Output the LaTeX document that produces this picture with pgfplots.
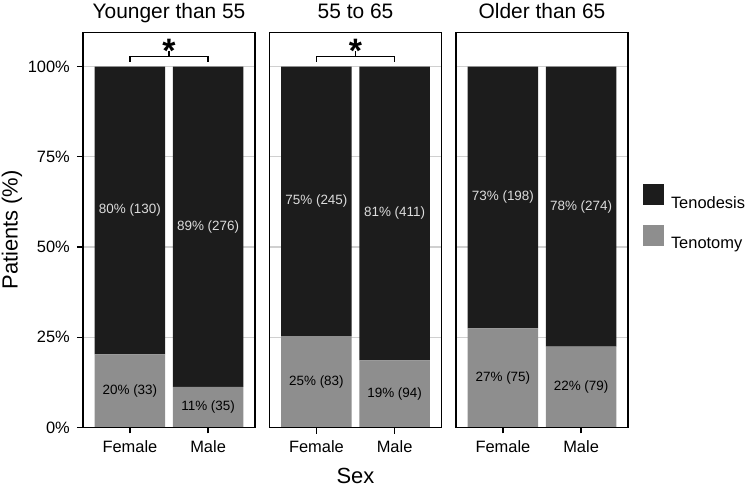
\documentclass[border=0pt]{standalone}
\usepackage{fontspec}
\setmainfont{Liberation Sans}
\usepackage{pgfplots}
\pgfplotsset{compat=1.18}
\definecolor{tdes}{HTML}{1C1C1C}
\definecolor{tomy}{HTML}{8E8E8E}
\definecolor{gridc}{HTML}{D0D0D0}
\definecolor{lightlab}{HTML}{DCDCDC}
\tikzset{bracket/.style={black, line width=1.8bp}}
\pgfplotsset{
  frame/.style={
    scale only axis, width=172bp, height=395.2bp, anchor=south west,
    xmin=0.4, xmax=2.6, ymin=0, ymax=109.5, clip=false,
    axis line style={black, line width=1.2bp},
  },
  panel/.style={
    frame,
    ybar stacked, bar width=0.9,
    xtick={1,2}, xticklabels={Female,Male},
    ytick={0,25,50,75,100},
    ymajorgrids, grid style={gridc, line width=1.1bp},
    tick align=outside, major tick length=6bp,
    tick style={black, line width=1.2bp},
    xtick pos=bottom, ytick pos=left,
    ticklabel style={font=\fontsize{16.5}{18}\selectfont, inner sep=0pt},
    xticklabel style={anchor=north, yshift=-6.5bp},
    yticklabel style={anchor=east, xshift=-7bp},
    title style={at={(0.5,1)}, anchor=base, yshift=8bp, font=\fontsize{21}{24}\selectfont},
    label style={font=\fontsize{22}{26}\selectfont},
  },
  labelaxis/.style={frame, xtick=\empty, ytick=\empty},
  labels/.style={only marks, mark=none,
    nodes near coords, point meta=explicit symbolic,
    nodes near coords style={anchor=center, inner sep=0pt, font=\fontsize{13.5}{16}\selectfont, text=#1}},
}
\newcommand{\sigstar}{\fontsize{34}{34}\selectfont\bfseries *}
\begin{document}
\begin{tikzpicture}
\useasboundingbox (0,0) rectangle (750bp,489bp);
% Panel 1
\begin{axis}[panel, at={(83bp,61.5bp)}, title={Younger than 55},
  ylabel={Patients (\%)}, ylabel style={at={(axis description cs:-0.413,0.5)}, anchor=center},
  yticklabels={0\%,25\%,50\%,75\%,100\%}]
\addplot[fill=tomy, draw=none] coordinates {(1,20.25) (2,11.25)};
\addplot[fill=tdes, draw=none] coordinates {(1,79.75) (2,88.75)};
\draw[bracket] (axis cs:1,101.4) |- (axis cs:2,102.8) -- (axis cs:2,101.4);
\draw[bracket] (axis cs:1.5,102.8) -- (axis cs:1.5,104.2);
\node[anchor=base, inner sep=0pt] at (axis cs:1.5,101.1) {\sigstar};
\end{axis}
\begin{axis}[labelaxis, at={(83bp,61.5bp)}]
\addplot[labels=black] coordinates {(1,10.12) [20\% (33)] (2,5.63) [11\% (35)]};
\addplot[labels=lightlab] coordinates {(1,60.12) [80\% (130)] (2,55.63) [89\% (276)]};
\end{axis}
% Panel 2
\begin{axis}[panel, at={(269.5bp,61.5bp)}, title={55 to 65},
  yticklabels={}, ytick style={draw=none},
  xlabel={Sex}, xlabel style={at={(axis description cs:0.5,-0.1227)}, anchor=center}]
\addplot[fill=tomy, draw=none] coordinates {(1,25.30) (2,18.61)};
\addplot[fill=tdes, draw=none] coordinates {(1,74.70) (2,81.39)};
\draw[bracket] (axis cs:1,101.4) |- (axis cs:2,102.8) -- (axis cs:2,101.4);
\draw[bracket] (axis cs:1.5,102.8) -- (axis cs:1.5,104.2);
\node[anchor=base, inner sep=0pt] at (axis cs:1.5,101.1) {\sigstar};
\end{axis}
\begin{axis}[labelaxis, at={(269.5bp,61.5bp)}]
\addplot[labels=black] coordinates {(1,12.65) [25\% (83)] (2,9.31) [19\% (94)]};
\addplot[labels=lightlab] coordinates {(1,62.65) [75\% (245)] (2,59.31) [81\% (411)]};
\end{axis}
% Panel 3
\begin{axis}[panel, at={(456bp,61.5bp)}, title={Older than 65},
  yticklabels={}, ytick style={draw=none},
  legend image code/.code={\fill[#1] (0bp,-2bp) rectangle (21bp,19bp);},
  reverse legend,
  legend style={at={(axis description cs:1,0.616)}, anchor=north west, xshift=15bp,
    draw=none, fill=none, inner sep=0pt, outer sep=0pt, row sep=15bp, column sep=7bp,
    nodes={inner sep=0pt}, font=\fontsize{16.5}{18}\selectfont},
  legend cell align=left]
\addplot[fill=tomy, draw=none] coordinates {(1,27.47) (2,22.38)};
\addplot[fill=tdes, draw=none] coordinates {(1,72.53) (2,77.62)};
\legend{Tenotomy,Tenodesis}
\end{axis}
\begin{axis}[labelaxis, at={(456bp,61.5bp)}]
\addplot[labels=black] coordinates {(1,13.74) [27\% (75)] (2,11.19) [22\% (79)]};
\addplot[labels=lightlab] coordinates {(1,63.74) [73\% (198)] (2,61.19) [78\% (274)]};
\end{axis}
\end{tikzpicture}
\end{document}
